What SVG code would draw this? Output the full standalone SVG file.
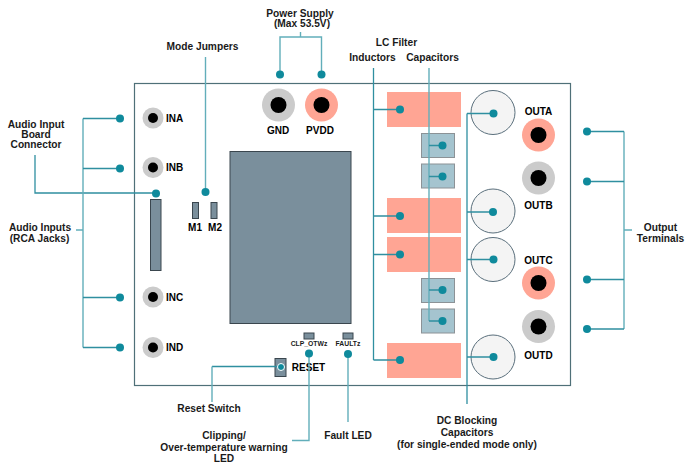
<svg xmlns="http://www.w3.org/2000/svg" width="685" height="463" viewBox="0 0 685 463">
<style>
text{font-family:"Liberation Sans",Arial,sans-serif;font-weight:700;font-size:10.200px;fill:#1a1a1a;text-anchor:middle}
.big{font-size:10px;fill:#000}
.tiny{font-size:6.800px}
.l{fill:none;stroke:#2f8fa0;stroke-width:1.3}
.ll{fill:none;stroke:#62aeba;stroke-width:1.4}
.d{fill:#0f8a9c}
.ind{fill:#ffa594}
.cap{fill:#a5c4cf;stroke:#8c9296;stroke-width:1}
.bc{fill:#f4f4f4;stroke:#5a6f7c;stroke-width:1}
.part{fill:#7a8f9c;stroke:#3a464e;stroke-width:1}
.g{fill:#cbcbcb}.p{fill:#ffa594}.h{fill:#000}
</style>
<rect id="board" x="134.500" y="83.500" width="436" height="302" fill="#fff" stroke="#4f7078" stroke-width="1.2"/>
<g id="chip"><rect class="part" x="230" y="151.500" width="121" height="172"/></g>
<g id="in-connector"><rect class="part" x="150.500" y="199.500" width="10.500" height="71"/></g>
<g id="m1"><rect class="part" x="192.500" y="202.500" width="6" height="16"/><text class="big" x="195" y="231">M1</text></g>
<g id="m2"><rect class="part" x="211" y="202.500" width="6" height="16"/><text class="big" x="215" y="231">M2</text></g>
<g id="ina"><circle class="g" cx="153" cy="118" r="10.500"/><circle class="h" cx="153" cy="118" r="5"/><text class="big" x="174.500" y="122">INA</text></g>
<g id="inb"><circle class="g" cx="153" cy="167.500" r="10.500"/><circle class="h" cx="153" cy="167.500" r="5"/><text class="big" x="174.500" y="171">INB</text></g>
<g id="inc"><circle class="g" cx="153" cy="297" r="10.500"/><circle class="h" cx="153" cy="297" r="5"/><text class="big" x="174.500" y="301">INC</text></g>
<g id="ind"><circle class="g" cx="153" cy="347.500" r="10.500"/><circle class="h" cx="153" cy="347.500" r="5"/><text class="big" x="174.500" y="351">IND</text></g>
<g id="gnd"><circle class="g" cx="278.500" cy="105" r="16.500"/><circle class="h" cx="278.500" cy="105" r="8"/><text class="big" x="278" y="134">GND</text></g>
<g id="pvdd"><circle class="p" cx="321.500" cy="105" r="16.500"/><circle class="h" cx="321.500" cy="105" r="8"/><text class="big" x="320" y="134">PVDD</text></g>
<g id="inductors"><rect class="ind" x="387" y="92" width="74" height="35"/><rect class="ind" x="387" y="198" width="74" height="35"/><rect class="ind" x="387" y="237" width="74" height="35"/><rect class="ind" x="387" y="343" width="74" height="35"/></g>
<g id="caps"><rect class="cap" x="421.500" y="133.500" width="33" height="24"/><rect class="cap" x="421.500" y="164" width="33" height="24"/><rect class="cap" x="421.500" y="278.500" width="33" height="24"/><rect class="cap" x="421.500" y="309" width="33" height="24"/></g>
<g id="dc-caps"><circle class="bc" cx="493" cy="112.500" r="22"/><circle class="bc" cx="493" cy="211" r="22"/><circle class="bc" cx="493" cy="259.500" r="22"/><circle class="bc" cx="493" cy="357" r="22"/></g>
<g id="outa"><circle class="p" cx="538.500" cy="135" r="16.500"/><circle class="h" cx="538.500" cy="135" r="8"/><text class="big" x="538.500" y="114.500">OUTA</text></g>
<g id="outb"><circle class="g" cx="538.500" cy="178" r="16.500"/><circle class="h" cx="538.500" cy="178" r="8"/><text class="big" x="538.500" y="209">OUTB</text></g>
<g id="outc"><circle class="p" cx="538.500" cy="283" r="16.500"/><circle class="h" cx="538.500" cy="283" r="8"/><text class="big" x="538.500" y="264">OUTC</text></g>
<g id="outd"><circle class="g" cx="538.500" cy="326.500" r="16.500"/><circle class="h" cx="538.500" cy="326.500" r="8"/><text class="big" x="538.500" y="359">OUTD</text></g>
<g id="clp"><rect class="part" x="304" y="333" width="10" height="6"/><text class="tiny" x="309" y="346">CLP_OTWz</text></g>
<g id="fault"><rect class="part" x="343" y="333" width="10" height="6"/><text class="tiny" x="348" y="346">FAULTz</text></g>
<g id="reset"><rect class="part" x="275" y="358.500" width="11" height="18"/><text class="big" x="308.500" y="371">RESET</text></g>
<g id="connectors">
<path class="ll" d="M300.500 32V37M280 74.500V37H321.500V74.500"/>
<path class="ll" d="M205.500 57V192"/>
<path class="l" d="M35 155V193H156"/>
<path class="ll" d="M83 118.500V347.500M76 230H83"/>
<path class="l" d="M83 118.500H120M83 168.500H120M83 297.500H120M83 347.500H120"/>
<path class="l" d="M373.500 68V360M373.500 109.500H400M373.500 216H400M373.500 254.500H400M373.500 360H400"/>
<path class="ll" d="M429 68V321"/>
<path class="l" d="M429 145.500H442.500M429 176.500H442.500M429 290H442.500M429 321H442.500"/>
<path class="l" d="M467 113.500V404M467 113.500H493.500M467 212H493M467 259.500H493.500M467 357H493.500"/>
<path class="ll" d="M624 131.500V329M624 230H632"/>
<path class="l" d="M587 131.500H624M587 181.500H624M587 279.500H624M587 329H624"/>
<path class="l" d="M281 366.500H212"/><path class="ll" d="M212 366.500V402"/>
<path class="ll" d="M309 353.500V440.500H292"/>
<path class="ll" d="M348 354V422"/>
<g class="d">
<circle cx="280" cy="74.500" r="4"/><circle cx="321.500" cy="74.500" r="4"/><circle cx="205.500" cy="192" r="4"/><circle cx="156" cy="193.500" r="4"/>
<circle cx="120" cy="118.500" r="4"/><circle cx="120" cy="168.500" r="4"/><circle cx="120" cy="297.500" r="4"/><circle cx="120" cy="347.500" r="4"/>
<circle cx="400" cy="109.500" r="4"/><circle cx="400" cy="216" r="4"/><circle cx="400" cy="254.500" r="4"/><circle cx="400" cy="360" r="4"/>
<circle cx="442.500" cy="145.500" r="4"/><circle cx="442.500" cy="176.500" r="4"/><circle cx="442.500" cy="290" r="4"/><circle cx="442.500" cy="321" r="4"/>
<circle cx="493.500" cy="113.500" r="4"/><circle cx="493" cy="212" r="4"/><circle cx="493.500" cy="259.500" r="4"/><circle cx="493.500" cy="357" r="4"/>
<circle cx="587" cy="131.500" r="4"/><circle cx="587" cy="181.500" r="4"/><circle cx="587" cy="279.500" r="4"/><circle cx="587" cy="329" r="4"/>
<circle cx="309" cy="353.500" r="4"/><circle cx="348" cy="354" r="4"/>
</g>
<circle cx="281" cy="367" r="3.500" fill="#0f8a9c" stroke="#fff" stroke-width="1"/>
</g>
<g id="labels">
<text x="300" y="17">Power Supply</text><text x="302" y="27">(Max 53.5V)</text>
<text x="202.500" y="50">Mode Jumpers</text>
<text x="36" y="128">Audio Input</text><text x="36" y="138">Board</text><text x="36" y="148">Connector</text>
<text x="40" y="231">Audio Inputs</text><text x="39.500" y="242">(RCA Jacks)</text>
<text x="396.500" y="46">LC Filter</text><text x="372.500" y="61">Inductors</text><text x="432.500" y="61">Capacitors</text>
<text x="660.500" y="231">Output</text><text x="660.500" y="242">Terminals</text>
<text x="209" y="412">Reset Switch</text>
<text x="224" y="439">Clipping/</text><text x="224" y="451">Over-temperature warning</text><text x="224" y="462">LED</text>
<text x="348" y="439">Fault LED</text>
<text x="467" y="424">DC Blocking</text><text x="467" y="436">Capacitors</text><text x="467" y="448">(for single-ended mode only)</text>
</g>
</svg>
